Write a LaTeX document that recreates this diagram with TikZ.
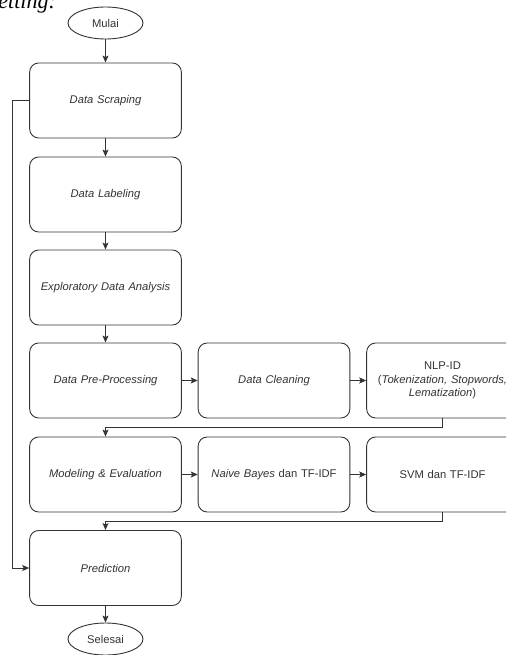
\documentclass[tikz,border=0pt]{standalone}
\usepackage{fontspec}
\setmainfont{Liberation Serif}
\setsansfont{Liberation Sans}
\usepackage{tikz}
\usetikzlibrary{calc,shapes,arrows,arrows.meta}
\tikzset{
   step node/.style={rectangle,rounded corners=9pt,draw=black!80,line width=0.9pt,
                     minimum width=151pt,minimum height=75pt,text width=145pt,align=center,
                     text=black!80,font=\sffamily\fontsize{11.2}{13.5}\selectfont},
   term node/.style={ellipse,draw=black!80,line width=0.9pt,minimum width=75pt,minimum height=32pt,
                     inner sep=0pt,text=black!80,font=\sffamily\fontsize{11.2}{13.5}\selectfont}
}

\begin{document}
\begin{tikzpicture}[x=1pt,y=-1pt,
                    ->,>={Stealth[length=7pt,width=6pt,inset=1.5pt]},
                    line width=0.9pt,draw=black!80]
\useasboundingbox (0,0) rectangle (506,655);
\clip (0,0) rectangle (506,655);
% cut-off text above the chart
\node[anchor=base west,inner sep=0pt,font=\rmfamily\itshape\fontsize{22}{22}\selectfont] (hdr) at (-2,9) {etting:};
%
\node[term node] (mulai) at (105.5, 23) {Mulai};
\node[step node] (1) at (105.5, 100.5) {\itshape Data Scraping};
\node[step node] (2) at (105.5, 194.5) {\itshape Data Labeling};
\node[step node] (3) at (105.5, 287.5) {\itshape Exploratory Data Analysis};
\node[step node] (4) at (105.5, 380.5) {\itshape Data Pre-Processing};
\node[step node] (5) at ($ (4) + (168.5, 0) $) {\itshape Data Cleaning};
\node[step node] (6) at ($ (5) + (168.5, 0) $) {NLP-ID\\(\textit{Tokenization, Stopwords,}\\\textit{Lematization})};
\node[step node] (7) at (105.5, 474.5) {\itshape Modeling \& Evaluation};
\node[step node] (8) at ($ (7) + (168.5, 0) $) {\textit{Naive Bayes} dan TF-IDF};
\node[step node] (9) at ($ (8) + (168.5, 0) $) {SVM dan TF-IDF};
\node[step node] (10) at (105.5, 568) {\itshape Prediction};
\node[term node] (selesai) at (105.5, 639) {Selesai};
%
\coordinate (k1) at (442.5, 427);
\coordinate (k2) at (442.5, 521);
\coordinate (k3) at (12, 100.5);
%
\path
  (mulai) edge (1)
  (1) edge (2)
  (2) edge (3)
  (3) edge (4)
  (4) edge (5)
  (5) edge (6)
  (7) edge (8)
  (8) edge (9)
  (10) edge (selesai)
  ;
\draw (6.south) -- (k1) -| (7.north);
\draw (9.south) -- (k2) -| (10.north);
\draw (1.west) -- (k3) |- (10.west);
\end{tikzpicture}
\end{document}
